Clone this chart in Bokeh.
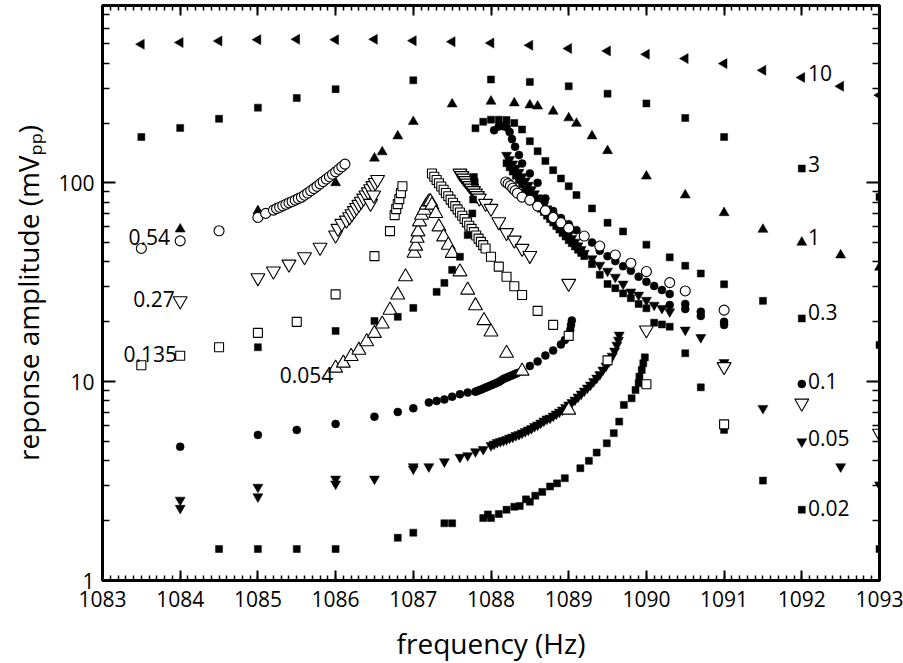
import numpy as np
from bokeh.plotting import figure
from bokeh.models import (Range1d, FixedTicker, LinearAxis, LogAxis,
                          PrintfTickFormatter, CustomJSTickFormatter)
from bokeh.core.properties import value
from bokeh.embed import file_html
from bokeh.resources import INLINE

# ---------------- data (frequency in Hz, amplitude in mVpp) ----------------
# drive 10 (left-pointing filled triangles)
d10_f = [1083.5, 1084.0, 1084.5, 1085.0, 1085.5, 1086.0, 1086.5, 1087.0, 1087.5, 1088.0,
         1088.5, 1089.0, 1089.5, 1090.0, 1090.5, 1091.0, 1091.5, 1092.0, 1092.5, 1093.0]
d10_a = [498, 508, 517, 525, 527, 525, 527, 519, 513, 505,
         492, 474, 461, 443, 422, 398, 368, 339, 306, 276]

# drive 3 (filled squares)
d3_f = [1083.5, 1084.0, 1084.5, 1085.0, 1085.5, 1086.0, 1087.0, 1088.0, 1088.5, 1089.0,
        1089.5, 1090.0, 1090.5, 1091.0, 1092.0, 1093.0]
d3_a = [170, 189, 210, 239, 267, 296, 328, 331, 322, 306, 281, 251, 212, 170, 118, 85]

# drive 1 (filled up triangles)
d1_f = [1084.0, 1085.0, 1086.0, 1086.5, 1086.6, 1086.8, 1087.0, 1087.5, 1088.0, 1088.3,
        1088.5, 1088.6, 1088.8, 1089.0, 1089.1, 1089.3, 1089.5, 1090.0, 1090.5, 1091.0,
        1091.5, 1092.0, 1092.5, 1093.0]
d1_a = [58.5, 72.3, 100, 133, 143, 172, 203, 249, 257, 252, 246, 243, 229, 212, 199, 172,
        145, 108, 86.8, 70.7, 58.3, 50.2, 43.3, 37.6]

# drive 0.54 (open circles)
d054_f = [1083.5, 1084.0, 1084.5, 1085.0, 1085.1,
          1085.20, 1085.24, 1085.28, 1085.32, 1085.36, 1085.40, 1085.44, 1085.48, 1085.52,
          1085.56, 1085.60, 1085.64, 1085.68, 1085.72, 1085.76, 1085.80, 1085.84, 1085.88,
          1085.92, 1085.96, 1086.00, 1086.04, 1086.08, 1086.12,
          1088.19, 1088.22, 1088.25, 1088.28, 1088.31, 1088.34, 1088.4, 1088.5, 1088.6, 1088.7,
          1088.8, 1088.9, 1089.0, 1089.2, 1089.4, 1089.6, 1089.8, 1090.0, 1090.3, 1090.5, 1091.0]
d054_a = [46.8, 51.1, 57.4, 67.0, 70.2,
          72.9, 74.2, 75.4, 76.7, 78.0, 79.3, 80.6, 81.9, 83.3, 84.7, 86.7, 88.9, 91.2, 93.5,
          96.1, 98.8, 101.6, 104.5, 107.4, 110.4, 113.6, 117, 120.5, 124.2,
          101, 99.1, 96.8, 94, 91.4, 88.8, 84.8, 81.9, 76.4, 72.5, 66.9, 63, 59.2, 54, 48.1,
          43.4, 39.4, 35.8, 31.5, 28.6, 22.9]

# drive 0.27 (open down triangles)
d027_f = [1084.0, 1085.0, 1085.2, 1085.4, 1085.6, 1085.8, 1086.0, 1086.03, 1086.08, 1086.14,
          1086.18, 1086.21, 1086.24, 1086.27, 1086.30, 1086.33, 1086.36, 1086.39, 1086.42,
          1086.45, 1086.48, 1086.51, 1086.54, 1086.45, 1086.49,
          1087.6, 1087.625, 1087.65, 1087.675, 1087.7, 1087.725, 1087.75, 1087.775, 1087.8,
          1087.825, 1087.85, 1087.93, 1088.0, 1088.1, 1088.2, 1088.3, 1088.4, 1088.5,
          1089.0, 1090.0, 1091.0, 1092.0, 1093.0]
d027_a = [25.5, 33.3, 36, 39, 42.5, 47.4, 54.6, 59, 62.5, 64.9,
          67.5, 69.9, 72.5, 75.2, 77.9, 80.8, 83.8, 86.9, 90.0, 93.3, 96.8, 100.3, 104,
          78.8, 86.8,
          111.9, 108.7, 105.6, 102.6, 99.7, 96.8, 94.0, 91.4, 88.8, 86.2, 83.8,
          78.8, 74.4, 63.7, 56.2, 51.5, 46.8, 43.1, 31.2, 18.2, 11.9, 7.8, 5.5]

# drive 0.135 (open squares)
d0135_f = [1083.5, 1084.0, 1084.5, 1085.0, 1085.5, 1086.0, 1086.5, 1086.70, 1086.76, 1086.78,
           1086.80, 1086.82, 1086.84, 1086.86,
           1087.24, 1087.27, 1087.30, 1087.33, 1087.36, 1087.39, 1087.42, 1087.45, 1087.48,
           1087.51, 1087.54, 1087.57, 1087.60, 1087.63, 1087.66, 1087.69, 1087.72, 1087.75,
           1087.78, 1087.81, 1087.84, 1087.87, 1087.90, 1087.93,
           1088.0, 1088.1, 1088.2, 1088.3, 1088.4, 1088.6, 1088.8, 1089.0, 1089.5, 1090.0, 1091.0]
d0135_a = [12.1, 13.5, 14.9, 17.6, 20.0, 27.5, 42.8, 57.2, 68.8, 73.8, 78.2, 82.8, 88.8, 96.2,
           111.5, 107.3, 103.4, 99.5, 95.9, 92.3, 88.9, 85.6, 82.4, 79.4, 76.4, 73.6, 70.9,
           68.3, 65.8, 63.3, 60.9, 58.7, 56.5, 54.4, 52.4, 50.5, 48.6, 46.8,
           42.5, 37.9, 33.7, 30.2, 27.3, 22.7, 19.3, 17.0, 12.8, 9.7, 6.1]

# drive 0.054 (open up triangles)
d0054_f = [1086.0, 1086.1, 1086.2, 1086.3, 1086.4, 1086.5, 1086.6, 1086.7, 1086.8, 1086.9,
           1087.01, 1087.03, 1087.05, 1087.06, 1087.08, 1087.105, 1087.14, 1087.17, 1087.2,
           1087.22, 1087.24, 1087.29, 1087.33, 1087.39, 1087.45, 1087.5, 1087.6, 1087.7,
           1087.8, 1087.91, 1088.0, 1088.2, 1088.4, 1089.0]
d0054_a = [11.7, 12.4, 13.4, 14.4, 15.9, 17.5, 19.5, 22.9, 27.3, 33.7,
           44.3, 48.1, 52.7, 56.7, 63.7, 68.8, 72.9, 77.3, 80.3, 80.5,
           77.3, 70.2, 60.1, 53.5, 48.6, 44.2, 35.7, 28.9, 24.1, 20.3, 17.8, 13.9, 11.3, 7.2]

# drive 0.3 (filled squares)
d03_f = [1085.0, 1086.0, 1086.5, 1086.8, 1087.0, 1087.3, 1087.4, 1087.5, 1087.6, 1087.7,
         1087.76, 1087.77, 1087.78, 1087.79, 1087.8, 1087.9, 1088.0, 1088.1, 1088.2, 1088.3,
         1088.4, 1088.5, 1088.6, 1088.7, 1088.8, 1088.9, 1089.0, 1089.1, 1089.3, 1089.5,
         1089.7, 1090.0, 1090.3, 1090.5, 1090.7, 1091.0, 1091.5, 1092.0, 1093.0]
d03_a = [14.9, 18.0, 20.2, 21.2, 23.5, 28.3, 31.4, 36.5, 42.5, 54.6,
         70.2, 82.5, 107, 101, 188, 203, 208, 208, 207, 200,
         185.5, 162, 144.3, 129, 115.8, 105.2, 96.2, 86.8, 74.4, 63.0,
         57.0, 48.9, 42.2, 38.3, 35.0, 30.9, 25.5, 20.8, 15.3]

# drive 0.1 (filled circles)
d01_f = [1084.0, 1085.0, 1085.5, 1086.0, 1086.5, 1086.8, 1087.0, 1087.2, 1087.3, 1087.4,
         1087.5, 1087.6, 1087.7, 1087.8,
         1087.83, 1087.86, 1087.89, 1087.92, 1087.95, 1087.98, 1088.01, 1088.04, 1088.07,
         1088.10, 1088.13, 1088.16, 1088.19, 1088.22, 1088.25, 1088.28, 1088.31, 1088.34,
         1088.4, 1088.5, 1088.6, 1088.7, 1088.8, 1088.9, 1088.95, 1089.0, 1089.02, 1089.03, 1089.04,
         1088.04, 1088.1, 1088.15, 1088.2, 1088.24, 1088.27, 1088.31, 1088.36, 1088.4, 1088.5,
         1088.6, 1088.7, 1088.8, 1088.9, 1089.0, 1089.1, 1089.3, 1089.4, 1089.5, 1089.6,
         1089.7, 1089.8, 1089.9, 1090.0, 1090.1, 1090.2, 1090.3, 1090.3, 1090.5, 1090.5,
         1090.7, 1090.7, 1091.0, 1091.0, 1092.0]
d01_a = [4.71, 5.40, 5.72, 6.13, 6.67, 7.04, 7.35, 7.86, 8.0, 8.14, 8.41, 8.65, 8.81, 8.91,
         9.0, 9.08, 9.19, 9.3, 9.4, 9.51, 9.63, 9.74, 9.85, 9.97, 10.14, 10.32, 10.44, 10.56,
         10.68, 10.8, 10.93, 11.06,
         11.32, 12.0, 12.64, 13.54, 14.35, 15.38, 16.2, 16.83, 18.19, 19.27, 20.3,
         184, 192, 193, 190.5, 180, 166, 152, 138, 125, 111.5, 100, 83.5, 72.1, 66.5, 62.0,
         57.8, 50.1, 45.5, 42.8, 40.4, 38.1, 36.1, 33.7, 31.8, 30.3, 28.9, 27.6, 24.3, 24.6,
         23.2, 22.5, 21.4, 20.0, 19.3, 9.74]

# drive 0.05 (filled down triangles)
d005_f = [1084.0, 1084.0, 1085.0, 1085.0, 1086.0, 1086.0, 1086.5, 1087.0, 1087.0, 1087.2,
          1087.4, 1087.6, 1087.7, 1087.8, 1087.9,
          1088.00, 1088.04, 1088.08, 1088.12, 1088.16, 1088.20, 1088.24, 1088.28, 1088.32,
          1088.36, 1088.40, 1088.44, 1088.48, 1088.52, 1088.56, 1088.60, 1088.64, 1088.68,
          1088.72, 1088.76, 1088.80, 1088.84, 1088.88, 1088.92, 1088.96, 1089.00, 1089.04,
          1089.08, 1089.12, 1089.16, 1089.20, 1089.24, 1089.28, 1089.32, 1089.36, 1089.40,
          1089.44, 1089.48, 1089.52, 1089.56, 1089.59, 1089.62, 1089.64, 1089.65,
          1088.20, 1088.24, 1088.28, 1088.32, 1088.36, 1088.40, 1088.44, 1088.48, 1088.52,
          1088.56, 1088.60, 1088.64, 1088.68, 1088.72, 1088.76, 1088.80, 1088.84, 1088.88,
          1088.92, 1088.96, 1089.00, 1089.04, 1089.08, 1089.12, 1089.16, 1089.20,
          1089.3, 1089.4, 1089.5, 1089.6, 1089.7, 1089.8, 1089.9, 1090.0, 1090.1, 1090.2,
          1090.3, 1090.5, 1090.7, 1091.0, 1091.5, 1092.0, 1092.5, 1093.0]
d005_a = [2.54, 2.31, 2.95, 2.64, 3.24, 3.06, 3.24, 3.74, 3.64, 3.74, 3.96, 4.17, 4.25, 4.45, 4.57,
          4.78, 4.86, 4.95, 5.01, 5.06, 5.12, 5.21, 5.27, 5.37, 5.43, 5.52, 5.62, 5.72, 5.82,
          5.96, 6.06, 6.20, 6.35, 6.50, 6.57, 6.73, 6.88, 7.04, 7.21, 7.42, 7.64, 7.86, 8.09,
          8.38, 8.68, 8.98, 9.30, 9.63, 10.02, 10.44, 10.87, 11.45, 11.99, 12.64, 13.46,
          14.27, 15.29, 16.2, 17.17,
          137.8, 131.1, 124.7, 118.8, 113.1, 107.6, 102.3, 97.4, 92.6, 88.2, 84.2, 80.7,
          77.3, 74.1, 71.0, 68.0, 65.2, 62.4, 59.8, 57.3, 54.9, 52.6, 50.4, 48.3, 46.3, 44.3,
          41.6, 38.6, 36.0, 33.6, 31.0, 28.3, 27.3, 25.7, 24.3, 23.4, 22.5, 18.2, 16.7, 12.5,
          7.35, 4.99, 3.74, 3.03]

# drive 0.02 (filled squares)
d002_f = [1084.5, 1085.0, 1085.5, 1086.0, 1086.8, 1087.0, 1087.4, 1087.5, 1087.9, 1087.96,
          1088.0, 1088.1, 1088.2, 1088.3, 1088.37, 1088.45, 1088.5, 1088.57, 1088.66, 1088.76,
          1088.85, 1088.95, 1089.15, 1089.26, 1089.36, 1089.49, 1089.58, 1089.65, 1089.71,
          1089.81, 1089.86, 1089.9, 1089.91, 1089.94, 1089.96, 1089.98,
          1088.20, 1088.24, 1088.28, 1088.32, 1088.36, 1088.40, 1088.44, 1088.48, 1088.52,
          1088.56, 1088.60, 1088.64, 1088.68, 1088.72, 1088.76, 1088.80, 1088.84, 1088.88,
          1088.92, 1088.96, 1089.00, 1089.04, 1089.08, 1089.12, 1089.16, 1089.20,
          1089.3, 1089.4, 1089.5, 1089.6, 1089.7, 1089.8, 1089.9, 1090.0, 1090.1, 1090.2,
          1090.3, 1090.5, 1090.7, 1091.0, 1091.5, 1092.0, 1093.0]
d002_a = [1.44, 1.44, 1.44, 1.44, 1.64, 1.74, 1.94, 1.94, 2.06, 2.15, 2.06, 2.16, 2.27, 2.35,
          2.37, 2.56, 2.49, 2.67, 2.79, 2.97, 3.08, 3.27, 3.67, 4.0, 4.4, 4.9, 5.51, 6.3,
          7.64, 8.25, 9.08, 9.82, 10.6, 11.45, 12.37, 13.26,
          125.6, 119.7, 114.0, 108.6, 103.4, 98.5, 93.8, 89.4, 85.2, 81.1, 77.3, 74.2, 71.3,
          68.4, 65.7, 63.1, 60.6, 58.2, 55.9, 53.7, 51.5, 49.7, 47.9, 46.1, 44.4, 42.8,
          39.0, 34.5, 31.0, 29.5, 27.8, 26.3, 24.6, 23.4, 19.8, 19.4, 18.9, 13.9, 9.37,
          5.72, 3.18, 2.27, 1.44]

# series annotations (drive levels)
right_text = ["10", "3", "1", "0.3", "0.1", "0.05", "0.02"]
right_amp = [357, 125, 53.5, 22.5, 10.1, 5.2, 2.31]
left_text = ["0.54", "0.27", "0.135", "0.054"]
left_freq = [1083.87, 1083.93, 1083.96, 1085.97]
left_amp = [53.2, 26.0, 13.8, 10.8]

x_major = list(range(1083, 1094))
y_major = [1, 10, 100]

# ---------------- figure ----------------
FONT = "Open Sans"
X0, X1 = 1083, 1093
Y0, Y1 = 1, 780

p = figure(frame_width=777, frame_height=575,
           x_range=Range1d(X0, X1), y_range=Range1d(Y0, Y1), y_axis_type="log",
           output_backend="svg", toolbar_location=None,
           min_border_left=102, min_border_right=24, min_border_top=5, min_border_bottom=76,
           background_fill_color="white", border_fill_color="white",
           outline_line_color="black", outline_line_width=3)
p.xgrid.visible = False
p.ygrid.visible = False

x_minor = [round(X0 + 0.1 * i, 1) for i in range(101)]
y_minor = [m * 10 ** e for e in range(0, 3) for m in range(2, 10) if m * 10 ** e <= Y1]


def style_axis(ax, major_len, minor_len):
    ax.axis_line_width = 3
    ax.axis_line_color = "black"
    ax.major_tick_in = major_len
    ax.major_tick_out = 0
    ax.minor_tick_in = minor_len
    ax.minor_tick_out = 0
    ax.major_tick_line_width = 2
    ax.minor_tick_line_width = 1.5
    ax.major_tick_line_color = "black"
    ax.minor_tick_line_color = "black"
    ax.major_label_text_font = FONT
    ax.major_label_text_font_size = "21px"
    ax.major_label_text_color = "black"
    ax.axis_label_text_font = FONT
    ax.axis_label_text_font_size = "28px"
    ax.axis_label_text_font_style = "normal"
    ax.axis_label_text_color = "black"


xa = p.xaxis[0]
xa.ticker = FixedTicker(ticks=x_major, minor_ticks=x_minor)
xa.formatter = PrintfTickFormatter(format="%d")
style_axis(xa, 10, 5)
xa.major_label_standoff = 10
xa.axis_label = "frequency (Hz)"
xa.axis_label_standoff = 14

ya = p.yaxis[0]
ya.ticker = FixedTicker(ticks=y_major, minor_ticks=y_minor)
ya.formatter = PrintfTickFormatter(format="%d")
style_axis(ya, 13, 7)
ya.major_label_standoff = 8
ya.axis_label = "reponse amplitude (mV\u209a\u209a)"
ya.axis_label_standoff = 8

blank = CustomJSTickFormatter(code="return ''")
top = LinearAxis(ticker=FixedTicker(ticks=x_major, minor_ticks=x_minor), formatter=blank)
style_axis(top, 10, 5)
top.major_label_standoff = 0
top.major_label_text_font_size = "1px"
p.add_layout(top, "above")

right = LogAxis(ticker=FixedTicker(ticks=y_major, minor_ticks=y_minor), formatter=blank)
style_axis(right, 13, 7)
right.major_label_standoff = 0
right.major_label_text_font_size = "1px"
p.add_layout(right, "right")


# ---------------- markers ----------------
def filled(f, a, marker, size, angle=0.0):
    p.scatter(f, a, marker=marker, size=size, angle=angle,
              fill_color="black", line_color="black", line_width=0.5)


def hollow(f, a, marker, size):
    p.scatter(f, a, marker=marker, size=size,
              fill_color="white", line_color="black", line_width=1.1)


filled(d10_f, d10_a, "triangle", 10, angle=np.pi / 2)
filled(d1_f, d1_a, "triangle", 10)
filled(d3_f, d3_a, "square", 7)
filled(d01_f, d01_a, "circle", 8)
filled(d005_f, d005_a, "inverted_triangle", 10)
filled(d002_f, d002_a, "square", 7)
hollow(d054_f, d054_a, "circle", 10)
hollow(d027_f, d027_a, "inverted_triangle", 14)
hollow(d0135_f, d0135_a, "square", 9)
hollow(d0054_f, d0054_a, "triangle", 14)
filled(d03_f, d03_a, "square", 7)

# drive level labels
p.text(x=[1092.08] * len(right_text), y=right_amp, text=right_text,
       text_font=value(FONT), text_font_size=value("21px"), text_color="black",
       text_align="left", text_baseline="middle")
p.text(x=left_freq, y=left_amp, text=left_text,
       text_font=value(FONT), text_font_size=value("21px"), text_color="black",
       text_align="right", text_baseline="middle")

open("out.html", "w").write(file_html(p, INLINE))
